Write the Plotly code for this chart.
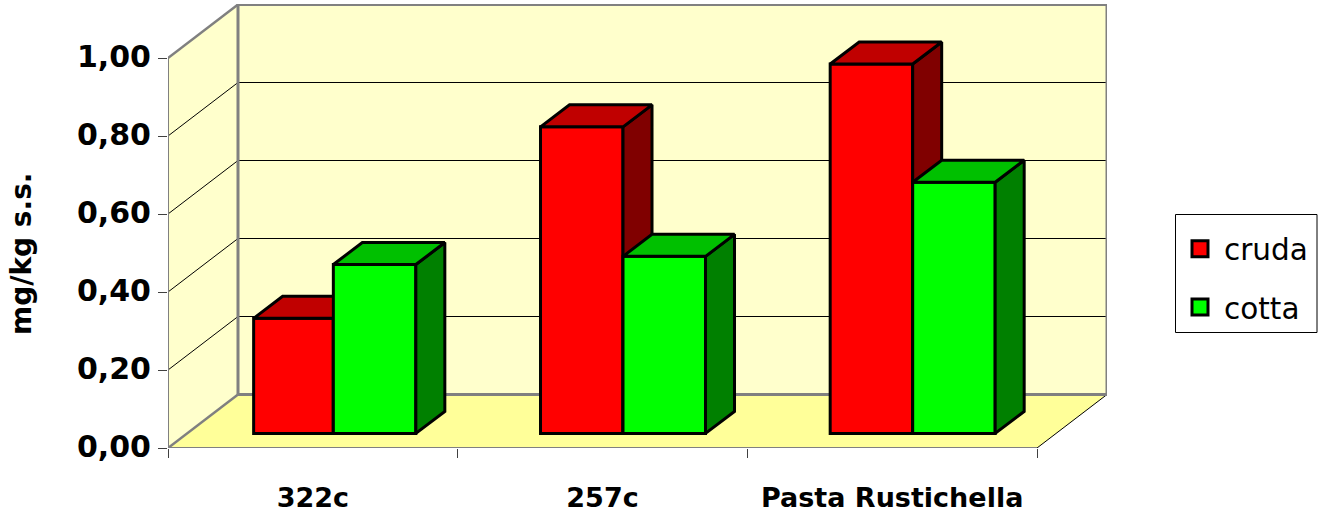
import plotly.graph_objects as go

# Series read in mg/kg s.s.
categories = ["322c", "257c", "Pasta Rustichella"]
cruda = [0.295, 0.786, 0.947]
cotta = [0.433, 0.454, 0.644]
y_ticks = [0.0, 0.2, 0.4, 0.6, 0.8, 1.0]
y_tick_text = ["0,00", "0,20", "0,40", "0,60", "0,80", "1,00"]

# Oblique projection, in axis units: how far the back wall and the bars recede
WALL_DX, WALL_DY = 70 / 289.67, 53.5 / 390
BAR_DX, BAR_DY = 29 / 289.67, 22 / 390
BAR_LIFT = 14.6 / 390
BAR_SHIFT = 20.5 / 289.67
BAR_W = 82.5 / 289.67
# The first cruda bar is drawn slightly narrower than the others
CRUDA_W = [79.7 / 289.67, BAR_W, BAR_W]
COTTA_W = [BAR_W, BAR_W, BAR_W]
N = len(categories)

X_RANGE = [0, 939 / 289.67]
Y_RANGE = [0, 444 / 390]

FONT = "DejaVu Sans"
GREY = "#808080"
WALL = "#FFFFCC"
FLOOR = "#FFFF99"


def poly(points, fill, xa="x", ya="y", line="rgba(0,0,0,0)", width=0):
    xs, ys = zip(*points)
    return go.Scatter(x=list(xs), y=list(ys), mode="lines", fill="toself", fillcolor=fill,
                      line=dict(color=line, width=width), showlegend=False, hoverinfo="skip",
                      cliponaxis=False, xaxis=xa, yaxis=ya)


def path(points, color, width):
    xs, ys = zip(*points)
    return go.Scatter(x=list(xs), y=list(ys), mode="lines", line=dict(color=color, width=width),
                      showlegend=False, hoverinfo="skip", cliponaxis=False)


def series_faces(values, lefts, widths, top_color, side_color, xa, ya):
    """Receding top and side faces for one series of bars."""
    top, side = [], []
    for left, w, v in zip(lefts, widths, values):
        r = left + w
        b = BAR_LIFT
        t = BAR_LIFT + v
        top += [(left, t), (r, t), (r + BAR_DX, t + BAR_DY), (left + BAR_DX, t + BAR_DY), (left, t), (None, None)]
        side += [(r, b), (r + BAR_DX, b + BAR_DY), (r + BAR_DX, t + BAR_DY), (r, t), (r, b), (None, None)]
    return [poly(side[:-1], side_color, xa, ya, "#000000", 3),
            poly(top[:-1], top_color, xa, ya, "#000000", 3)]


fig = go.Figure()

# Floor and walls
fig.add_trace(poly([(0, 0), (WALL_DX, WALL_DY), (N + WALL_DX, WALL_DY), (N, 0), (0, 0)], FLOOR))
fig.add_trace(poly([(0, 0), (WALL_DX, WALL_DY), (WALL_DX, 1 + WALL_DY), (0, 1), (0, 0)], WALL))
fig.add_trace(poly([(WALL_DX, WALL_DY), (N + WALL_DX, WALL_DY), (N + WALL_DX, 1 + WALL_DY),
                    (WALL_DX, 1 + WALL_DY), (WALL_DX, WALL_DY)], WALL))

# Gridlines run across the left wall and then along the back wall
for v in y_ticks[1:-1]:
    fig.add_trace(path([(0, v), (WALL_DX, v + WALL_DY), (N + WALL_DX, v + WALL_DY)], "#000000", 1))

# Wall and floor edges
fig.add_trace(path([(N, 0), (N + WALL_DX, WALL_DY)], "#000000", 1))
fig.add_trace(path([(0, 0), (N, 0)], GREY, 2))
fig.add_trace(path([(0, 0), (0, 1)], GREY, 2))
fig.add_trace(path([(0, 0), (WALL_DX, WALL_DY)], GREY, 2.5))
fig.add_trace(path([(0, 1), (WALL_DX, 1 + WALL_DY)], GREY, 2.5))
fig.add_trace(path([(WALL_DX, WALL_DY), (WALL_DX, 1 + WALL_DY), (N + WALL_DX, 1 + WALL_DY),
                    (N + WALL_DX, WALL_DY), (WALL_DX, WALL_DY)], GREY, 3))

# Bars: each series sits on its own overlaying axis pair so cotta paints over cruda
idx = list(range(N))
red_left = [i + 0.5 + BAR_SHIFT - CRUDA_W[i] for i in idx]
green_left = [i + 0.5 + BAR_SHIFT for i in idx]
stack = [(cruda, red_left, CRUDA_W, "#FF0000", "#C00000", "#800000", "x2", "y2", "cruda"),
         (cotta, green_left, COTTA_W, "#00FF00", "#00C000", "#008000", "x3", "y3", "cotta")]
for values, lefts, widths, front, top, side, xa, ya, name in stack:
    fig.add_trace(go.Bar(x=[l + w / 2 for l, w in zip(lefts, widths)], y=values, base=BAR_LIFT,
                         width=widths, name=name,
                         marker=dict(color=front, line=dict(color="#000000", width=3)),
                         showlegend=False, cliponaxis=False, xaxis=xa, yaxis=ya))
    fig.add_traces(series_faces(values, lefts, widths, top, side, xa, ya))

# Legend entries
for name, color in (("cruda", "#FF0000"), ("cotta", "#00FF00")):
    fig.add_trace(go.Scatter(x=[None], y=[None], mode="markers", name=name, legendgroup=name,
                             marker=dict(symbol="square", size=16, color=color,
                                         line=dict(color="#000000", width=3))))

overlay = dict(range=X_RANGE, visible=False, fixedrange=True)
overlay_y = dict(range=Y_RANGE, visible=False, fixedrange=True)

fig.update_layout(
    width=1319, height=513, autosize=False,
    margin=dict(l=168, r=212, t=4, b=65, autoexpand=False),
    paper_bgcolor="#FFFFFF", plot_bgcolor="rgba(0,0,0,0)",
    font=dict(family=FONT, color="#000000"),
    xaxis=dict(range=X_RANGE, tickmode="array", tickvals=[i + 0.5 for i in idx], ticktext=categories,
               ticks="", showgrid=False, zeroline=False, showline=False, ticklabelstandoff=31,
               automargin=False, tickfont=dict(family=FONT, size=27, weight=700),
               minor=dict(tickmode="array", tickvals=[0, 1, 2, 3], ticks="outside", ticklen=9,
                          tickwidth=1, tickcolor="#404040", showgrid=False)),
    yaxis=dict(range=Y_RANGE, tickmode="array", tickvals=y_ticks, ticktext=y_tick_text,
               ticks="outside", ticklen=9, tickwidth=1, tickcolor="#404040",
               showgrid=False, zeroline=False, showline=False, ticklabelstandoff=1,
               ticklabelshift=-2, automargin=False, tickfont=dict(family=FONT, size=30, weight=700)),
    xaxis2=dict(overlaying="x", **overlay), yaxis2=dict(overlaying="y", **overlay_y),
    xaxis3=dict(overlaying="x", **overlay), yaxis3=dict(overlaying="y", **overlay_y),
    showlegend=True,
    legend=dict(x=1176 / 1319, y=(513 - 223) / 513, xref="container", yref="container",
                xanchor="left", yanchor="top", bgcolor="rgba(0,0,0,0)",
                borderwidth=0, itemwidth=38, tracegroupgap=17,
                font=dict(family=FONT, size=29.5)),
    shapes=[dict(type="rect", xref="paper", yref="paper",
                 x0=(1175.5 - 168) / 939, x1=(1317 - 168) / 939,
                 y0=(448 - 332.5) / 444, y1=(448 - 214.5) / 444,
                 line=dict(color="#000000", width=1))],
    annotations=[dict(text="mg/kg s.s.", xref="paper", yref="paper", x=(21 - 168) / 939,
                      y=(448 - 254) / 444, textangle=-90, showarrow=False,
                      xanchor="center", yanchor="middle",
                      font=dict(family=FONT, size=28, weight=700))],
)

fig.write_html("out.html")
